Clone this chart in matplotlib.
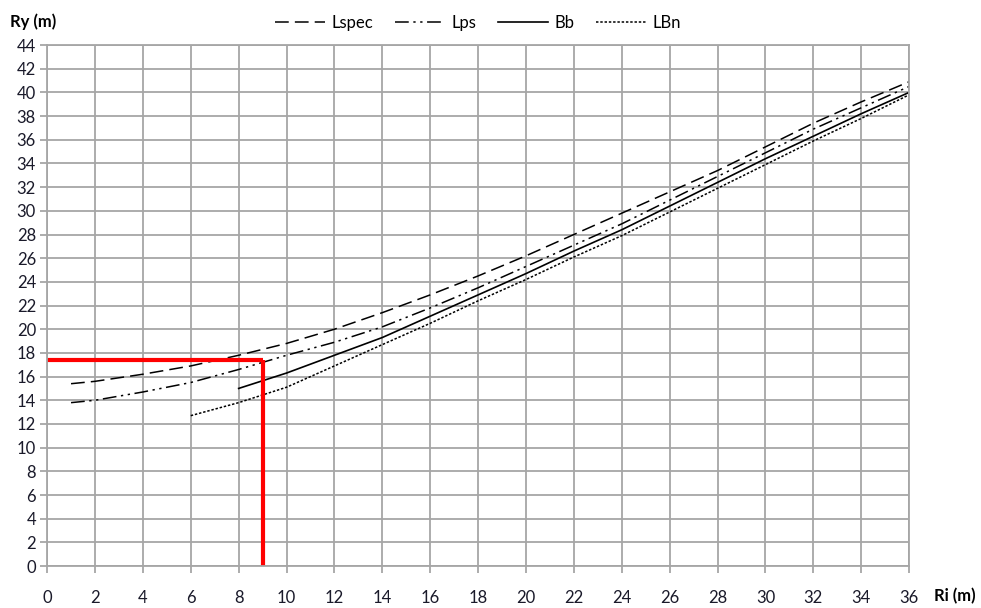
import numpy as np
import matplotlib.pyplot as plt

plt.rcParams['font.family'] = ['Lato', 'DejaVu Sans']

# Lspec
x_lspec = [1, 2, 4, 6, 8, 10, 12, 14, 16, 18, 20, 22, 24, 26, 28, 30, 32, 34, 36]
y_lspec = [15.4, 15.6, 16.2, 16.9, 17.8, 18.8, 20.0, 21.4, 22.9, 24.5, 26.2, 28.0,
           29.8, 31.6, 33.4, 35.4, 37.4, 39.2, 40.9]

# Lps
x_lps = [1, 2, 4, 6, 8, 10, 12, 14, 16, 18, 20, 22, 24, 26, 28, 30, 32, 34, 36]
y_lps = [13.8, 14.0, 14.7, 15.5, 16.6, 17.8, 18.9, 20.2, 21.8, 23.5, 25.3, 27.1,
         28.9, 30.9, 32.9, 34.9, 36.9, 38.7, 40.5]

# Bb
x_bb = [8, 10, 12, 14, 16, 18, 20, 22, 24, 26, 28, 30, 32, 34, 36]
y_bb = [15.0, 16.3, 17.8, 19.3, 21.1, 22.9, 24.7, 26.6, 28.4, 30.4, 32.4, 34.4,
        36.3, 38.2, 40.0]

# LBn
x_lbn = [6, 8, 10, 12, 14, 16, 18, 20, 22, 24, 26, 28, 30, 32, 34, 36]
y_lbn = [12.7, 13.8, 15.1, 16.9, 18.7, 20.5, 22.4, 24.2, 26.1, 27.9, 29.9, 31.9,
         33.9, 35.9, 37.8, 39.8]

# red reading lines
ri_read = 9.0
ry_read = 17.4

fig = plt.figure(figsize=(9.81, 6.08), dpi=100)
ax = fig.add_axes([0.048, 0.069, 0.8787, 0.8569])

gcol = '#a6a6a6'
ax.plot(x_lspec, y_lspec, color='black', lw=1.1, dashes=(9, 4), label='Lspec')
ax.plot(x_lps, y_lps, color='black', lw=1.1, dashes=(9, 3, 1.5, 3, 1.5, 3), label='Lps')
ax.plot(x_bb, y_bb, color='black', lw=1.2, label='Bb')
ax.plot(x_lbn, y_lbn, color='black', lw=1.1, dashes=(1.6, 1.2), label='LBn')

ax.plot([0, ri_read], [ry_read, ry_read], color='#ff0000', lw=3, solid_capstyle='butt')
ax.plot([ri_read, ri_read], [0, ry_read], color='#ff0000', lw=3, solid_capstyle='butt')

ax.set_xlim(0, 36)
ax.set_ylim(0, 44)
ax.set_xticks(np.arange(0, 37, 2))
ax.set_yticks(np.arange(0, 45, 2))
ax.grid(True, color=gcol, lw=1.3)
ax.set_axisbelow(True)
for s in ax.spines.values():
    s.set_color(gcol)
    s.set_linewidth(1.3)
ax.tick_params(axis='both', colors=gcol, length=5, width=1.3, labelsize=12,
               labelcolor='#1a1a2a')
ax.tick_params(axis='x', pad=12)
ax.tick_params(axis='y', pad=3)

fig.text(0.01, 0.965, 'Ry (m)', fontsize=12, fontweight='bold', va='center')
fig.text(0.952, 0.02, 'Ri (m)', fontsize=12, fontweight='bold', va='center')

ax.legend(loc='center', bbox_to_anchor=(0.5, 1.043), ncol=4, frameon=False,
          fontsize=12, handlelength=3.0, columnspacing=1.3, handletextpad=0.4)

fig.savefig('out.png', dpi=100)
